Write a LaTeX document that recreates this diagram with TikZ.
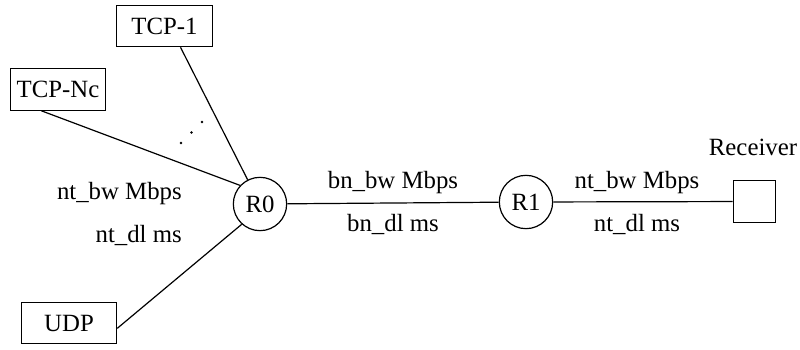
\documentclass[tikz,border=0pt]{standalone}
\usepackage{fontspec}
\setmainfont{Liberation Serif}
\begin{document}
\begin{tikzpicture}[x=0.75pt,y=-0.75pt,
  every node/.style={font=\rmfamily\fontsize{18.6}{22}\selectfont},
  host/.style={draw,line width=0.9pt,minimum width=71.5pt,minimum height=31pt,inner sep=0pt},
  router/.style={draw,circle,line width=0.9pt,minimum size=40pt,inner sep=0pt},
  sink/.style={draw,line width=0.9pt,minimum size=32pt,inner sep=0pt},
  link/.style={line width=0.9pt},
  lbl/.style={inner sep=0pt,anchor=base}]
\useasboundingbox (0,0) rectangle (800,350);

% end hosts
\node[host] (tcp1) at (164.5,26) {TCP-1};
\node[host] (tcpn) at (58,89.5) {TCP-Nc};
\node[host] (udp)  at (69,323) {UDP};

% routers and receiver
\node[router] (r0) at (260,204) {R0};
\node[router] (r1) at (526,202) {R1};
\node[sink] (rx) at (754.5,201.5) {};
\node[lbl] (rxl) at (753,155) {Receiver};

% access links
\draw[link] ([xshift=12pt]tcp1.south) -- (r0.117);
\draw[link] ([xshift=-12.5pt]tcpn.south) -- (r0.137);
\draw[link] ([yshift=-4pt]udp.east) -- (r0.228);

% bottleneck and receiver links
\draw[link] (r0) -- (r1);
\draw[link] (r1) -- (rx);

% ellipsis between the TCP flows
\foreach \p in {(181,143),(191.5,132.5),(202,122)}
  \fill \p circle (1.1pt);

% link parameters
\node[lbl,anchor=base east] (lbw) at (182,199.5) {nt\_bw Mbps};
\node[lbl,anchor=base east] (ldl) at (182,242) {nt\_dl ms};
\node[lbl] (bbw) at (393,188) {bn\_bw Mbps};
\node[lbl] (bdl) at (393,231) {bn\_dl ms};
\node[lbl] (rbw) at (637,188) {nt\_bw Mbps};
\node[lbl] (rdl) at (637,231) {nt\_dl ms};
\end{tikzpicture}
\end{document}
